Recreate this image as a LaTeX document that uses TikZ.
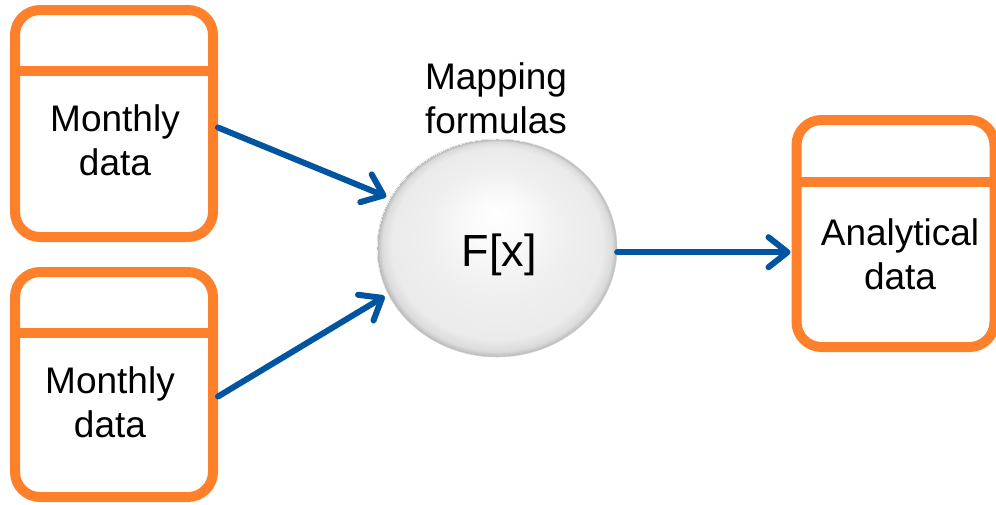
\documentclass[tikz,border=0pt]{standalone}
\usepackage{fontspec}
\setmainfont{Liberation Sans}
\usetikzlibrary{arrows.meta,shapes.geometric}

\definecolor{boxorange}{RGB}{255,128,42}
\definecolor{flowblue}{RGB}{0,84,160}

% soft grey sphere-like fill for the formula node
\pgfdeclareradialshading{orb}{\pgfpoint{0bp}{8bp}}{%
  color(0bp)=(white);
  color(6bp)=(white!98!black);
  color(14bp)=(white!94!black);
  color(22bp)=(white!92!black);
  color(24bp)=(white!86!black);
  color(25bp)=(white!72!black)}

\tikzset{
  store/.style={draw=boxorange, line width=10pt, rounded corners=25pt,
    rectangle, minimum width=198pt, inner sep=0pt},
  divider/.style={draw=boxorange, line width=10pt},
  label/.style={align=center, font=\fontsize{37}{44}\selectfont},
  flow/.style={draw=flowblue, line width=6pt, line cap=round,
    -{Straight Barb[length=19pt,width=30pt,round]}},
  orbnode/.style={ellipse, minimum width=240pt, minimum height=218pt,
    inner sep=0pt, shading=orb, draw=white!82!black, line width=0.5pt}
}

\begin{document}
\begin{tikzpicture}[x=1pt,y=-1pt]
\useasboundingbox (0,0) rectangle (996,504);

% data stores
\node[store, minimum height=227pt] (m1) at (114,123.5) {};
\node[store, minimum height=225pt] (m2) at (114,384.5) {};
\node[store, minimum height=227pt] (an) at (895.5,233.5) {};
\draw[divider] (m1.west |- 0,71) -- (m1.east |- 0,71);
\draw[divider] (m2.west |- 0,333) -- (m2.east |- 0,333);
\draw[divider] (an.west |- 0,182) -- (an.east |- 0,182);

\node[label] (t1) at (115,140) {Monthly\\data};
\node[label] (t2) at (110,402) {Monthly\\data};
\node[label] (t3) at (900,254) {Analytical\\data};

% mapping node
\node[orbnode] (fx) at (497,248) {};
\node[font=\fontsize{45}{54}\selectfont] (fxl) at (499,255) {F[x]};
\node[label] (map) at (496,98) {Mapping\\formulas};

% flows
\draw[flow, shorten >=4pt] ([yshift=-4pt]m1.east) -- (fx.155.5);
\draw[flow, shorten >=4pt] ([yshift=-12pt]m2.east) -- (fx.203.6);
\draw[flow, shorten >=1pt] (fx.-2.6) -- (fx.-2.6 -| an.west);
\end{tikzpicture}
\end{document}
